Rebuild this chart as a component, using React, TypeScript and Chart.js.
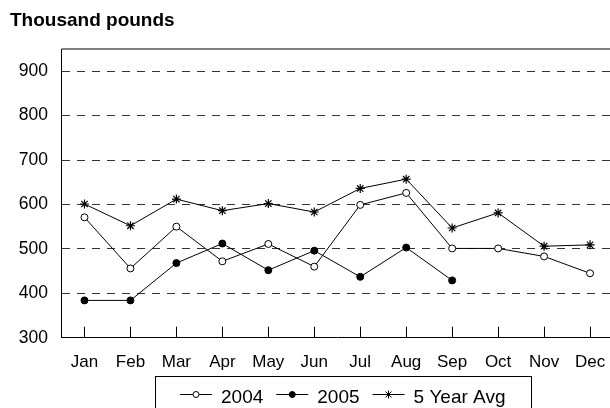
import React, { useEffect, useRef } from 'react';
import { Chart, registerables } from 'chart.js';

Chart.register(...registerables);

const months = ['Jan', 'Feb', 'Mar', 'Apr', 'May', 'Jun', 'Jul', 'Aug', 'Sep', 'Oct', 'Nov', 'Dec'];
const values2004 = [571, 456, 550, 472, 511, 460, 599, 626, 501, 501, 483, 445];
const values2005 = [384, 384, 468, 512, 452, 496, 437, 503, 429, null, null, null];
const values5yr = [601, 552, 612, 586, 602, 583, 636, 657, 547, 581, 506, 509];
const yTicks = [300, 400, 500, 600, 700, 800, 900];
const yMin = 300;
const yMax = 950;
const titleText = 'Thousand pounds';
const seriesNames = ['2004', '2005', '5 Year Avg'];

const FONT = '"Liberation Sans", Arial, Helvetica, sans-serif';

function drawMarker(ctx: CanvasRenderingContext2D, kind: string, x: number, y: number, r: number) {
  ctx.save();
  ctx.strokeStyle = '#000';
  ctx.lineWidth = 1;
  if (kind === 'open' || kind === 'filled') {
    ctx.beginPath();
    ctx.arc(x, y, r, 0, Math.PI * 2);
    ctx.fillStyle = kind === 'open' ? '#fff' : '#000';
    ctx.fill();
    ctx.stroke();
  } else {
    ctx.beginPath();
    ctx.moveTo(x, y - r); ctx.lineTo(x, y + r);
    const d = r * 0.75;
    ctx.moveTo(x - d, y - d); ctx.lineTo(x + d, y + d);
    ctx.moveTo(x - d, y + d); ctx.lineTo(x + d, y - d);
    ctx.stroke();
  }
  ctx.restore();
}

export default function App() {
  const ref = useRef<HTMLCanvasElement>(null);

  useEffect(() => {
    const canvas = ref.current;
    if (!canvas) return;

    const decor = {
      id: 'decor',
      afterDraw(chart: any) {
        const { ctx, chartArea, scales } = chart;
        ctx.save();
        // top frame line
        ctx.strokeStyle = '#555';
        ctx.lineWidth = 1.5;
        ctx.beginPath();
        ctx.moveTo(chartArea.left, chartArea.top);
        ctx.lineTo(chartArea.right, chartArea.top);
        ctx.stroke();
        // inward x tick marks
        const xs = scales.x;
        ctx.strokeStyle = '#000';
        ctx.lineWidth = 1;
        ctx.beginPath();
        for (let i = 0; i < months.length; i++) {
          const px = Math.round(xs.getPixelForValue(i)) + 0.5;
          ctx.moveTo(px, chartArea.bottom);
          ctx.lineTo(px, chartArea.bottom - 11);
        }
        ctx.stroke();
        // title
        ctx.fillStyle = '#000';
        ctx.font = `bold 19px ${FONT}`;
        ctx.textBaseline = 'alphabetic';
        ctx.textAlign = 'left';
        ctx.fillText(titleText, 10, 26);
        // legend
        ctx.font = `19px ${FONT}`;
        const kinds = ['open', 'filled', 'star'];
        const boxLeft = 155;
        let x = 180;
        const ly = 394.5;
        const base = 403;
        for (let i = 0; i < seriesNames.length; i++) {
          ctx.strokeStyle = '#000';
          ctx.lineWidth = 1;
          ctx.beginPath();
          ctx.moveTo(x, ly);
          ctx.lineTo(x + 32, ly);
          ctx.stroke();
          drawMarker(ctx, kinds[i], x + 16, ly, kinds[i] === 'star' ? 4 : 3);
          ctx.fillStyle = '#000';
          ctx.fillText(seriesNames[i], x + 41, base);
          const w = ctx.measureText(seriesNames[i]).width;
          x = x + 41 + w + (i < seriesNames.length - 1 ? 13 : 0);
        }
        const boxRight = Math.max(x + 25, 531);
        ctx.strokeStyle = '#000';
        ctx.lineWidth = 1;
        ctx.strokeRect(boxLeft + 0.5, 376.5, boxRight - boxLeft, 80);
        ctx.restore();
      },
    };

    const chart = new Chart(canvas, {
      type: 'line',
      data: {
        labels: months,
        datasets: [
          {
            label: seriesNames[0],
            data: values2004,
            borderColor: '#000',
            borderWidth: 1,
            pointStyle: 'circle',
            pointRadius: 3.5,
            pointBackgroundColor: '#fff',
            pointBorderColor: '#000',
            pointBorderWidth: 1,
            tension: 0,
            fill: false,
          },
          {
            label: seriesNames[1],
            data: values2005,
            borderColor: '#000',
            borderWidth: 1,
            pointStyle: 'circle',
            pointRadius: 3.5,
            pointBackgroundColor: '#000',
            pointBorderColor: '#000',
            pointBorderWidth: 1,
            tension: 0,
            fill: false,
            spanGaps: false,
          },
          {
            label: seriesNames[2],
            data: values5yr,
            borderColor: '#000',
            borderWidth: 1,
            pointStyle: 'star',
            pointRadius: 4.5,
            pointBackgroundColor: '#000',
            pointBorderColor: '#000',
            pointBorderWidth: 1.2,
            tension: 0,
            fill: false,
          },
        ],
      },
      options: {
        animation: false,
        responsive: true,
        maintainAspectRatio: false,
        layout: { padding: { left: 0, right: 27, top: 49, bottom: 62.3 } },
        plugins: {
          legend: { display: false },
          title: { display: false },
          tooltip: { enabled: false },
        },
        scales: {
          x: {
            type: 'category',
            offset: true,
            grid: { display: false, drawTicks: false },
            border: { display: true, color: '#000', width: 1 },
            ticks: {
              color: '#000',
              font: { family: FONT, size: 17 },
              padding: 14,
              maxRotation: 0,
              autoSkip: false,
            },
            afterFit(s: any) {
              s.height = 40;
            },
          },
          y: {
            min: yMin,
            max: yMax,
            afterBuildTicks(s: any) {
              s.ticks = yTicks.map((v) => ({ value: v }));
            },
            grid: {
              color: (c: any) => (c.tick && c.tick.value === yMin ? 'rgba(0,0,0,0)' : '#333'),
              lineWidth: 1,
              drawTicks: false,
            },
            border: { display: true, color: '#000', width: 1, dash: [8, 7] },
            ticks: {
              color: '#000',
              font: { family: FONT, size: 17.5 },
              padding: 13.5,
            },
            afterFit(s: any) {
              s.width = 61.5;
            },
          },
        },
      },
      plugins: [decor],
    } as any);

    return () => chart.destroy();
  }, []);

  return (
    <div style={{ position: 'fixed', left: 0, top: 0, width: 610, height: 408, overflow: 'hidden', background: '#fff' }}>
      <div style={{ position: 'absolute', left: 0, top: 0, width: 640, height: 440 }}>
        <canvas ref={ref} />
      </div>
    </div>
  );
}
